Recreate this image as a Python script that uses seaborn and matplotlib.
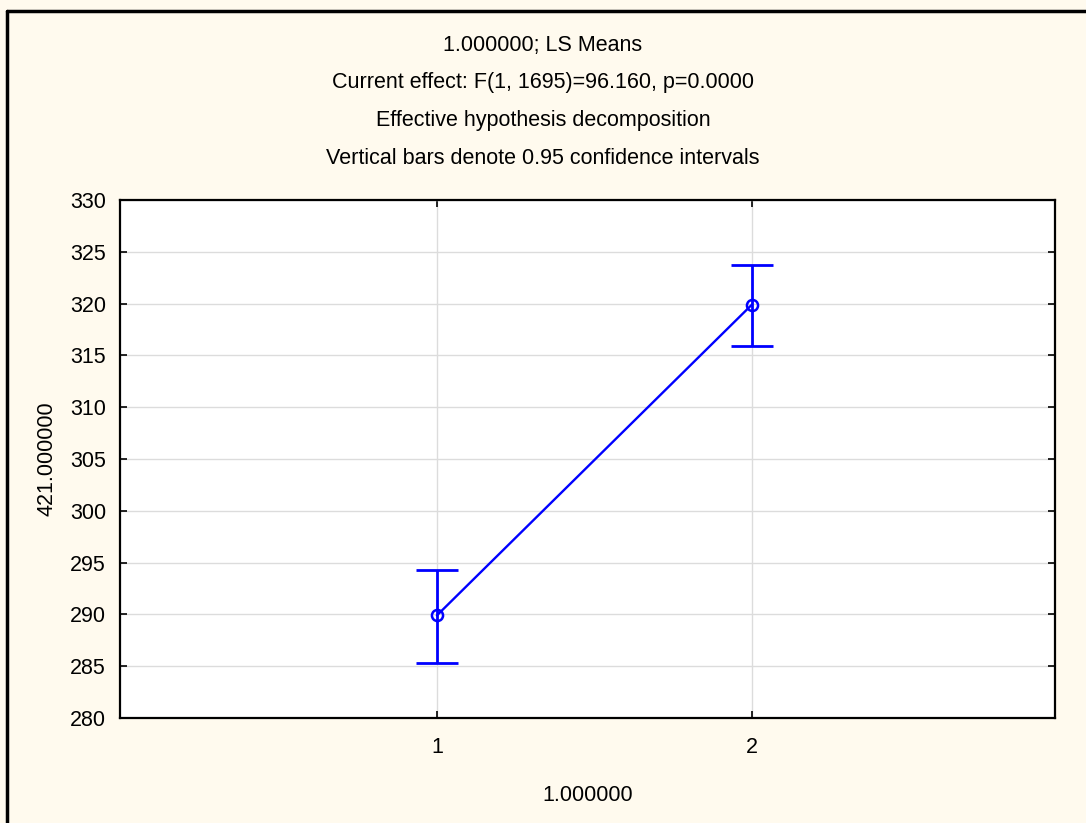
import matplotlib
matplotlib.use("Agg")
import matplotlib.pyplot as plt
import matplotlib.lines as mlines
import seaborn as sns
import pandas as pd

# --- data ---
levels = [1, 2]
ls_means = [289.9, 319.9]
ci_low = [285.3, 315.9]
ci_high = [294.3, 323.7]

title_lines = [
    "1.000000; LS Means",
    "Current effect: F(1, 1695)=96.160, p=0.0000",
    "Effective hypothesis decomposition",
    "Vertical bars denote 0.95 confidence intervals",
]

sns.set_style("whitegrid")
plt.rcParams['font.family'] = ['Liberation Sans', 'DejaVu Sans']
plt.rcParams['text.color'] = 'black'
plt.rcParams['axes.labelcolor'] = 'black'
plt.rcParams['xtick.color'] = 'black'
plt.rcParams['ytick.color'] = 'black'

df = pd.DataFrame({"level": levels, "mean": ls_means, "lo": ci_low, "hi": ci_high})

fs = 15.5
fig = plt.figure(figsize=(10.86, 8.23), dpi=100)
fig.patch.set_facecolor("#fffaee")
ax = fig.add_axes([0.1105, 0.1276, 0.8609, 0.6294])
ax.set_facecolor("white")

blue = "#0000ff"
sns.lineplot(data=df, x="level", y="mean", ax=ax, color=blue, lw=1.7,
             marker="o", markersize=8, markerfacecolor="none",
             markeredgecolor=blue, markeredgewidth=1.8)
ax.errorbar(df["level"], df["mean"],
            yerr=[df["mean"] - df["lo"], df["hi"] - df["mean"]],
            fmt="none", ecolor=blue, elinewidth=2, capsize=15, capthick=2)

ax.set_xlim(-0.006, 2.962)
ax.set_ylim(280, 330)
ax.set_xticks(levels)
ax.set_yticks(range(280, 331, 5))
ax.grid(True, color="#dcdcdc", lw=1)
for s in ax.spines.values():
    s.set_visible(True)
    s.set_color("black")
    s.set_linewidth(1.6)
ax.tick_params(axis="y", direction="in", length=5, width=1.2,
               left=True, right=True, labelsize=fs, pad=10)
ax.tick_params(axis="x", direction="in", length=5, width=1.2,
               bottom=True, top=True, labelsize=fs, pad=14)

ax.set_xlabel("1.000000", fontsize=fs, labelpad=19)
ax.set_ylabel("421.000000", fontsize=fs, labelpad=9)

for i, t in enumerate(title_lines):
    fig.text(0.5, 1 - (45 + i * 37.7) / 823, t, ha="center", va="center", fontsize=fs)

# partial frame around the figure (left and top only)
fig.add_artist(mlines.Line2D([7 / 1086, 7 / 1086], [0, 1 - 11 / 823],
                             transform=fig.transFigure, color="black", lw=2.5))
fig.add_artist(mlines.Line2D([7 / 1086, 1], [1 - 11 / 823, 1 - 11 / 823],
                             transform=fig.transFigure, color="black", lw=2.5))

fig.savefig("out.png", dpi=100, facecolor=fig.get_facecolor())
